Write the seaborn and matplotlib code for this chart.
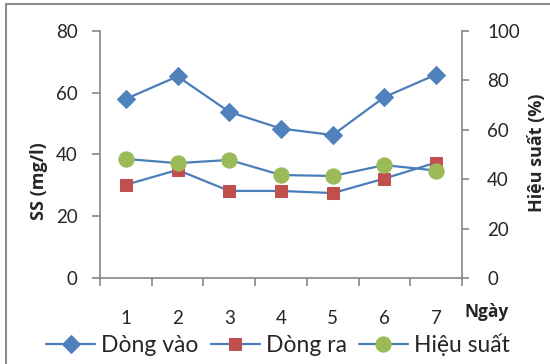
import matplotlib
matplotlib.use("Agg")
import matplotlib.pyplot as plt
from matplotlib.lines import Line2D
import seaborn as sns
import pandas as pd

# Daily suspended solids at inlet / outlet and removal efficiency
days = [1, 2, 3, 4, 5, 6, 7]
ss_in = [58.0, 65.3, 53.8, 48.4, 46.3, 58.6, 65.9]
ss_out = [30.2, 35.0, 28.2, 28.2, 27.5, 32.2, 37.4]
efficiency = [48.2, 46.5, 47.8, 41.7, 41.3, 45.7, 43.5]

y_left_ticks = [0, 20, 40, 60, 80]
y_right_ticks = [0, 20, 40, 60, 80, 100]

df = pd.DataFrame({"Ngày": days, "Dòng vào": ss_in, "Dòng ra": ss_out,
                   "Hiệu suất": efficiency})

sns.set_style("white")
plt.rcParams["font.family"] = ["Lato", "DejaVu Sans"]
BOLD_FONT = ["Open Sans", "DejaVu Sans"]

LINE = "#4A7EBB"
BLUE = "#4F81BD"
RED = "#C0504D"
GREEN = "#9BBB59"
SPINE = "#868686"

fig = plt.figure(figsize=(5.5, 3.64), dpi=100)
ax = fig.add_axes([100 / 550, 1 - 278 / 364, 362 / 550, 247 / 364])
ax2 = ax.twinx()

sns.lineplot(data=df, x="Ngày", y="Dòng vào", ax=ax, color=LINE, lw=1.6,
             marker="D", ms=9.5, markerfacecolor=BLUE, markeredgecolor=BLUE,
             label="Dòng vào", legend=False)
sns.lineplot(data=df, x="Ngày", y="Dòng ra", ax=ax, color=LINE, lw=1.6,
             marker="s", ms=8, markerfacecolor=RED, markeredgecolor=RED,
             label="Dòng ra", legend=False)
sns.lineplot(data=df, x="Ngày", y="Hiệu suất", ax=ax2, color=LINE, lw=1.6,
             marker="o", ms=11, markerfacecolor=GREEN, markeredgecolor=GREEN,
             label="Hiệu suất", legend=False)

ax.set_xlim(0.5, 7.5)
ax.set_ylim(0, 80)
ax2.set_ylim(0, 100)

ax.set_xticks(days)
ax.set_xticklabels([str(d) for d in days])
ax.set_xticks([d + 0.5 for d in [0] + days], minor=True)
ax.tick_params(axis="x", which="major", length=0, pad=23, labelsize=13.5)
ax.tick_params(axis="x", which="minor", length=6, width=1.2, color=SPINE,
               direction="out", bottom=True)

ax.set_yticks(y_left_ticks)
ax.tick_params(axis="y", length=6, width=1.2, color=SPINE, direction="out",
               left=True, pad=10, labelsize=13.5)
ax2.set_yticks(y_right_ticks)
ax2.tick_params(axis="y", length=5, width=1.2, color=SPINE, direction="out",
                right=True, pad=13, labelsize=13.5)

for a in (ax, ax2):
    a.grid(False)
    a.set_xlabel("")
    a.set_ylabel("")
    a.spines["top"].set_visible(False)
    for s in ("left", "right", "bottom"):
        a.spines[s].set_color(SPINE)
        a.spines[s].set_linewidth(1.2)
ax.spines["right"].set_visible(False)
ax2.spines["left"].set_visible(False)
ax2.spines["bottom"].set_visible(False)

fig.text(39 / 550, 1 - 181 / 364, "SS (mg/l)", rotation=90, ha="center",
         va="center", fontsize=13, fontweight="bold", family=BOLD_FONT)
fig.text(537 / 550, 1 - 153 / 364, "Hiệu suất (%)", rotation=90, ha="center",
         va="center", fontsize=13, fontweight="bold", family=BOLD_FONT)
fig.text(487 / 550, 1 - 312 / 364, "Ngày", ha="center", va="center",
         fontsize=12.5, fontweight="bold", family=BOLD_FONT)

handles = ax.get_lines()[:2] + ax2.get_lines()[:1]
fig.legend(handles, ["Dòng vào", "Dòng ra", "Hiệu suất"], loc="center",
           bbox_to_anchor=(278 / 550, 1 - 345 / 364), ncol=3, frameon=False,
           fontsize=16.5, handlelength=2.15, handletextpad=0.26,
           columnspacing=0.52, borderaxespad=0, borderpad=0)

# chart area frame (top and left edges)
fig.add_artist(Line2D([6 / 550, 1.0], [1 - 4 / 364, 1 - 4 / 364],
                      transform=fig.transFigure, color="#8C8C8C", lw=1.5))
fig.add_artist(Line2D([6 / 550, 6 / 550], [0.0, 1 - 4 / 364],
                      transform=fig.transFigure, color="#8C8C8C", lw=1.5))

fig.savefig("out.png", dpi=100)
